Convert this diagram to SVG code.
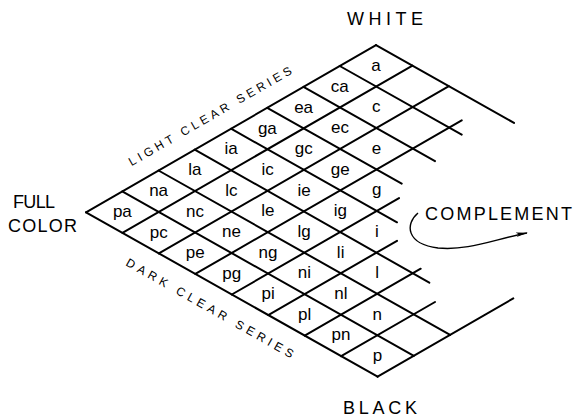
<svg xmlns="http://www.w3.org/2000/svg" width="576" height="419" viewBox="0 0 576 419">
<style>
.grid{fill:none;stroke:#000;stroke-width:2;stroke-linecap:round}
.cell{font-family:"Liberation Sans",Arial,sans-serif;font-size:17px;fill:#000;text-anchor:middle}
.cap{font-family:"Liberation Sans",Arial,sans-serif;font-size:18px;fill:#000}
.ser{font-family:"Liberation Sans",Arial,sans-serif;font-size:12px;fill:#000;text-anchor:middle}
.arrow{fill:none;stroke:#000;stroke-width:1.4}
</style>
<defs>
<marker id="ah" viewBox="0 0 12 6" refX="11" refY="3" markerWidth="12" markerHeight="6" markerUnits="userSpaceOnUse" orient="auto">
<path d="M0,0.5 L12,3 L0,5 L3,3 Z" fill="#000"/>
</marker>
</defs>
<rect width="576" height="419" fill="#fff"/>
<g id="connectors">
<path class="grid" d="M86,212.3 L377.6,376.7 M122.25,191.4 L413.85,355.8 M158.5,170.5 L450.1,334.9 M194.75,149.6 L429.3,282.7 M231,128.7 L397,222.3 M267.25,107.8 L401.7,183.6 M303.5,86.9 L435,161.1 M339.75,66 L461.7,134.6 M376,45.1 L514,122.9"/>
<path class="grid" d="M86,212.3 L376,45.1 M122.45,232.85 L412.45,65.65 M158.9,253.4 L448.9,86.2 M195.35,273.95 L461.7,120.3 M231.8,294.5 L399,198.1 M268.25,315.05 L397,240.8 M304.7,335.6 L420.7,268.7 M341.15,356.15 L435,302 M377.6,376.7 L513.3,298.4"/>
<path id="complement-arrow" class="arrow" d="M418,213 C405,224 406,244 438,248 C468,251 495,239 527,233" marker-end="url(#ah)"/>
</g>
<g id="cells" class="cell">
<g id="cell-pa"><text x="122.35" y="217.1">pa</text></g>
<g id="cell-na"><text x="158.6" y="196.2">na</text></g>
<g id="cell-la"><text x="194.85" y="175.3">la</text></g>
<g id="cell-ia"><text x="231.1" y="154.4">ia</text></g>
<g id="cell-ga"><text x="267.35" y="133.5">ga</text></g>
<g id="cell-ea"><text x="303.6" y="112.6">ea</text></g>
<g id="cell-ca"><text x="339.85" y="91.7">ca</text></g>
<g id="cell-a"><text x="376.1" y="70.8">a</text></g>
<g id="cell-pc"><text x="158.8" y="237.7">pc</text></g>
<g id="cell-nc"><text x="195.05" y="216.8">nc</text></g>
<g id="cell-lc"><text x="231.3" y="195.9">lc</text></g>
<g id="cell-ic"><text x="267.55" y="175">ic</text></g>
<g id="cell-gc"><text x="303.8" y="154.1">gc</text></g>
<g id="cell-ec"><text x="340.05" y="133.2">ec</text></g>
<g id="cell-c"><text x="376.3" y="112.3">c</text></g>
<g id="cell-pe"><text x="195.25" y="258.2">pe</text></g>
<g id="cell-ne"><text x="231.5" y="237.3">ne</text></g>
<g id="cell-le"><text x="267.75" y="216.4">le</text></g>
<g id="cell-ie"><text x="304" y="195.5">ie</text></g>
<g id="cell-ge"><text x="340.25" y="174.6">ge</text></g>
<g id="cell-e"><text x="376.5" y="153.7">e</text></g>
<g id="cell-pg"><text x="231.7" y="278.8">pg</text></g>
<g id="cell-ng"><text x="267.95" y="257.9">ng</text></g>
<g id="cell-lg"><text x="304.2" y="237">lg</text></g>
<g id="cell-ig"><text x="340.45" y="216.1">ig</text></g>
<g id="cell-g"><text x="376.7" y="195.2">g</text></g>
<g id="cell-pi"><text x="268.15" y="299.3">pi</text></g>
<g id="cell-ni"><text x="304.4" y="278.4">ni</text></g>
<g id="cell-li"><text x="340.65" y="257.5">li</text></g>
<g id="cell-i"><text x="376.9" y="236.6">i</text></g>
<g id="cell-pl"><text x="304.6" y="319.9">pl</text></g>
<g id="cell-nl"><text x="340.85" y="299">nl</text></g>
<g id="cell-l"><text x="377.1" y="278.1">l</text></g>
<g id="cell-pn"><text x="341.05" y="340.4">pn</text></g>
<g id="cell-n"><text x="377.3" y="319.5">n</text></g>
<g id="cell-p"><text x="377.5" y="361">p</text></g>
</g>
<g id="label-white"><text class="cap" x="347" y="25" textLength="76" lengthAdjust="spacing">WHITE</text></g>
<g id="label-black"><text class="cap" x="343" y="414" textLength="74" lengthAdjust="spacing">BLACK</text></g>
<g id="label-full-color"><text class="cap" x="13" y="208" textLength="42" lengthAdjust="spacing">FULL</text><text class="cap" x="8" y="232" textLength="69" lengthAdjust="spacing">COLOR</text></g>
<g id="label-complement"><text class="cap" x="425" y="220" textLength="147" lengthAdjust="spacing">COMPLEMENT</text></g>
<g id="label-light"><text class="ser" transform="translate(210,116) rotate(-30)" x="0" y="4.3" textLength="186" lengthAdjust="spacing">LIGHT CLEAR SERIES</text></g>
<g id="label-dark"><text class="ser" transform="translate(210,308) rotate(29.4)" x="0" y="4.3" textLength="190" lengthAdjust="spacing">DARK CLEAR SERIES</text></g>
</svg>
